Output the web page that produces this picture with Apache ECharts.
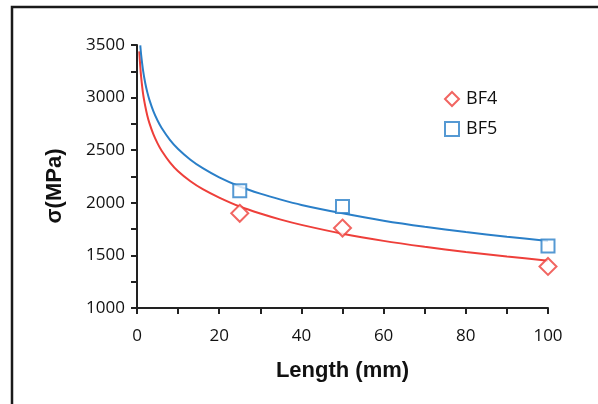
<!DOCTYPE html>
<html><head><meta charset="utf-8">
<script src="https://cdn.jsdelivr.net/npm/echarts@6/dist/echarts.min.js"></script>
<style>html,body{margin:0;padding:0;background:#fff}#c{width:598px;height:404px}</style>
</head><body><div id="c"></div>
<script>
// Measured points
const lengths = [25, 50, 100];
const bf4 = [1900, 1760, 1395];
const bf5 = [2115, 1965, 1590];
// Fitted curves (length, sigma)
const fitLenBF4 = [0.55, 0.75, 1, 1.5, 2, 2.5, 3, 4, 5, 6, 8, 10, 13, 16, 20, 25, 30, 35, 40, 50, 60, 70, 80, 90, 100];
const fitBF4 =    [3440, 3320, 3200, 3030, 2920, 2830, 2760, 2650, 2565, 2495, 2385, 2300, 2205, 2130, 2050, 1965, 1898, 1840, 1790, 1706, 1638, 1582, 1532, 1489, 1450];
const fitLenBF5 = [0.8, 1, 1.5, 2, 2.5, 3, 4, 5, 6, 8, 10, 13, 16, 20, 25, 30, 35, 40, 50, 60, 70, 80, 90, 100];
const fitBF5 =    [3496, 3409, 3251, 3139, 3052, 2981, 2869, 2782, 2711, 2599, 2512, 2410, 2329, 2242, 2155, 2087, 2030, 1980, 1900, 1830, 1772, 1722, 1678, 1637];
const xTicks = {min: 0, max: 100, interval: 20};
const yTicks = {min: 1000, max: 3500, interval: 500};

const RED = '#ee3f3a', BLUE = '#2a7fc8', AX = '#222';
const pair = (xs, ys) => xs.map((x, i) => [x, ys[i]]);

const chart = echarts.init(document.getElementById('c'));
const axisCommon = {
  axisLine: {show: true, onZero: false, lineStyle: {color: AX, width: 2}},
  axisTick: {show: true, length: 6, lineStyle: {color: AX, width: 2}},
  minorTick: {show: true, splitNumber: 2, length: 6, lineStyle: {color: AX, width: 2}},
  splitLine: {show: false},
  axisLabel: {color: '#111', fontSize: 17, fontFamily: 'Open Sans', formatter: v => String(v)}
};
chart.setOption({
  animation: false,
  grid: {left: 137, right: 50, top: 45, bottom: 96, containLabel: false},
  xAxis: Object.assign({type: 'value'}, xTicks, axisCommon, {
    axisLabel: Object.assign({}, axisCommon.axisLabel, {margin: 20}),
    name: 'Length (mm)', nameLocation: 'middle', nameGap: 52,
    nameTextStyle: {fontSize: 22, fontWeight: 'bold', color: '#111', fontFamily: 'Liberation Sans'}
  }),
  yAxis: Object.assign({type: 'value'}, yTicks, axisCommon, {
    axisLabel: Object.assign({}, axisCommon.axisLabel, {margin: 12})
  }),
  legend: {
    orient: 'vertical', left: 439, top: 85, itemGap: 12, itemWidth: 14, itemHeight: 14,
    data: ['BF4', 'BF5'],
    textStyle: {fontSize: 18, color: '#111', fontFamily: 'Open Sans', padding: [0, 0, 0, 2]}
  },
  graphic: [
    {type: 'rect', shape: {x: 12, y: 7, width: 700, height: 600}, style: {fill: 'none', stroke: '#1a1a1a', lineWidth: 2.5}, silent: true},
    {type: 'text', x: 55, y: 186, rotation: Math.PI / 2,
     style: {text: 'σ(MPa)', align: 'center', verticalAlign: 'middle', font: 'bold 22px "Liberation Sans"', fill: '#111'}}
  ],
  series: [
    {type: 'line', data: pair(fitLenBF4, fitBF4), smooth: 0.3, showSymbol: false, symbol: 'none',
     lineStyle: {color: RED, width: 2}, itemStyle: {color: RED}, z: 2},
    {type: 'line', data: pair(fitLenBF5, fitBF5), smooth: 0.3, showSymbol: false, symbol: 'none',
     lineStyle: {color: BLUE, width: 2}, itemStyle: {color: BLUE}, z: 2},
    {name: 'BF4', type: 'scatter', data: pair(lengths, bf4), symbol: 'diamond', symbolSize: 17,
     itemStyle: {color: '#fff', borderColor: RED, borderWidth: 2}, z: 5},
    {name: 'BF5', type: 'scatter', data: pair(lengths, bf5), symbol: 'rect', symbolSize: 13,
     itemStyle: {color: '#fff', borderColor: BLUE, borderWidth: 2}, z: 5}
  ]
});
</script></body></html>
